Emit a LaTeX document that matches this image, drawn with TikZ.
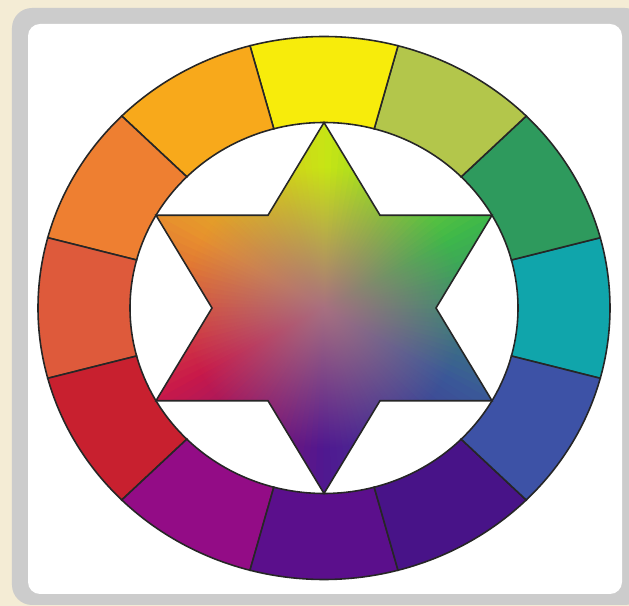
\documentclass[tikz,border=0pt]{standalone}
\usetikzlibrary{fadings}

\definecolor{crema}{HTML}{F4ECD5}
\definecolor{cornice}{HTML}{CCCCCC}
% colori dei settori
\definecolor{c0}{HTML}{10A5AB}
\definecolor{c30}{HTML}{2E9A5D}
\definecolor{c60}{HTML}{B3C64B}
\definecolor{c90}{HTML}{F7EC0B}
\definecolor{c120}{HTML}{F8A91B}
\definecolor{c150}{HTML}{EE7F31}
\definecolor{c180}{HTML}{DE5A3B}
\definecolor{c210}{HTML}{C8202F}
\definecolor{c240}{HTML}{930C86}
\definecolor{c270}{HTML}{5B0F8C}
\definecolor{c300}{HTML}{481388}
\definecolor{c330}{HTML}{3D52A6}
% colori delle punte della stella
\definecolor{s30}{HTML}{3DB84A}
\definecolor{s90}{HTML}{C8E614}
\definecolor{s150}{HTML}{E8902E}
\definecolor{s210}{HTML}{C8184A}
\definecolor{s270}{HTML}{501790}
\definecolor{s330}{HTML}{3A5898}
\definecolor{centro}{HTML}{A87080}

\tikzfading[name=bagliore, inner color=transparent!0, outer color=transparent!100]

\tikzset{
    settore/.style={draw=black!85, line width=0.45pt},
    bordo/.style={draw=black!85, line width=0.45pt},
}

\begin{document}
\begin{tikzpicture}
    \useasboundingbox (0,0) rectangle (6.29,6.06);

    %sfondo e cornice
    \fill[crema] (0,0) rectangle (6.29,6.06);
    \fill[cornice, rounded corners=0.2cm] (0.12,0.01) rectangle (6.45,5.98);
    \fill[white, rounded corners=0.12cm] (0.28,0.12) rectangle (6.22,5.82);

    \begin{scope}[shift={(3.24,2.98)}]
        %settori della ruota
        \foreach \a in {0,30,...,330}{
            \filldraw[settore, fill=c\a] (\a-15:2.86cm and 2.715cm)
                arc[start angle=\a-15, end angle=\a+15, x radius=2.86cm, y radius=2.715cm]
                -- (\a+15:1.94cm and 1.855cm)
                arc[start angle=\a+15, end angle=\a-15, x radius=1.94cm, y radius=1.855cm]
                -- cycle;
        }

        %punte e vertici interni della stella
        \foreach \a in {30,90,...,330}
            \coordinate (p\a) at (\a:1.94cm and 1.855cm);
        \foreach \a in {0,60,...,300}
            \coordinate (q\a) at (\a:1.12cm and 1.071cm);

        %sfumatura della stella
        \begin{scope}
            \clip (p90)--(q120)--(p150)--(q180)--(p210)--(q240)--(p270)--(q300)--(p330)--(q0)--(p30)--(q60)--cycle;
            \foreach \a/\ca/\cb in {-30/s330/s30, 30/s30/s90, 90/s90/s150, 150/s150/s210, 210/s210/s270, 270/s270/s330}
                \foreach \k in {0,...,23}{
                    \pgfmathtruncatemacro{\p}{100-(\k+0.5)*100/24}
                    \colorlet{tinta}{\ca!\p!\cb}
                    \filldraw[fill=tinta, draw=tinta, line width=0.3pt] (0,0) -- (\a+2.5*\k:2.2cm and 2.1cm) -- (\a+2.5*\k+2.5:2.2cm and 2.1cm) -- cycle;
                }
            \fill[centro, path fading=bagliore] (0,0) circle (1.4cm);
        \end{scope}
        \draw[bordo] (p90)--(q120)--(p150)--(q180)--(p210)--(q240)--(p270)--(q300)--(p330)--(q0)--(p30)--(q60)--cycle;
    \end{scope}
\end{tikzpicture}
\end{document}
